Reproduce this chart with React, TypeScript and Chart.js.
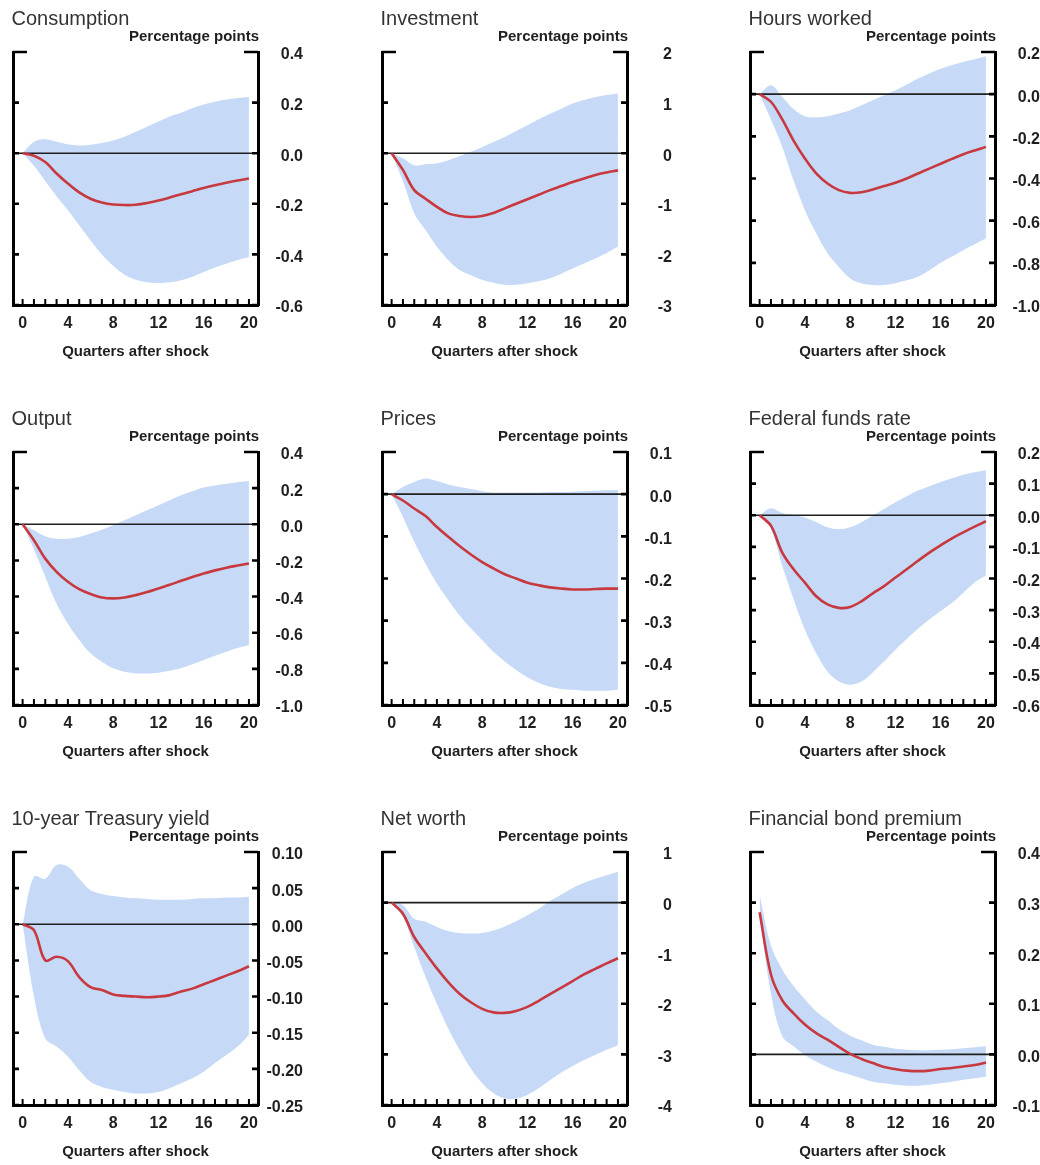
import React, { useEffect, useRef } from "react";
import { Chart, registerables } from "chart.js";

Chart.register(...registerables);

const FONT = '"Liberation Sans", Arial, Helvetica, sans-serif';
Chart.defaults.font.family = FONT;

// ---------- data ----------
const quarters = [0, 1, 2, 3, 4, 5, 6, 7, 8, 9, 10, 11, 12, 13, 14, 15, 16, 17, 18, 19, 20];
const xTickLabels = [0, 4, 8, 12, 16, 20];
const xMinorTicks = [0, 1, 2, 3, 4, 5, 6, 7, 8, 9, 10, 11, 12, 13, 14, 15, 16, 17, 18, 19, 20];

const consumptionMid = [0, -0.01, -0.035, -0.08, -0.12, -0.155, -0.18, -0.195, -0.203, -0.205, -0.204, -0.197, -0.187, -0.175, -0.162, -0.15, -0.138, -0.127, -0.117, -0.108, -0.1];
const consumptionLow = [0, -0.05, -0.11, -0.17, -0.225, -0.285, -0.345, -0.4, -0.445, -0.48, -0.5, -0.51, -0.513, -0.51, -0.502, -0.488, -0.47, -0.452, -0.437, -0.422, -0.41];
const consumptionHigh = [0, 0.045, 0.055, 0.045, 0.035, 0.03, 0.033, 0.04, 0.05, 0.065, 0.085, 0.105, 0.125, 0.145, 0.16, 0.178, 0.192, 0.203, 0.212, 0.218, 0.222];
const consumptionTicks = [-0.6, -0.4, -0.2, 0, 0.2, 0.4];

const investmentMid = [0, -0.33, -0.73, -0.9, -1.06, -1.19, -1.24, -1.26, -1.24, -1.18, -1.09, -1.0, -0.91, -0.82, -0.73, -0.65, -0.57, -0.5, -0.43, -0.38, -0.34];
const investmentLow = [0, -0.55, -1.19, -1.52, -1.85, -2.11, -2.31, -2.41, -2.5, -2.56, -2.6, -2.6, -2.57, -2.53, -2.47, -2.38, -2.28, -2.18, -2.08, -1.97, -1.85];
const investmentHigh = [0, -0.1, -0.24, -0.22, -0.2, -0.14, -0.06, 0.03, 0.12, 0.22, 0.32, 0.44, 0.55, 0.67, 0.78, 0.88, 0.98, 1.05, 1.11, 1.15, 1.18];
const investmentTicks = [-3, -2, -1, 0, 1, 2];

const hoursMid = [0, -0.036, -0.12, -0.22, -0.305, -0.376, -0.424, -0.455, -0.468, -0.465, -0.452, -0.436, -0.42, -0.4, -0.376, -0.353, -0.33, -0.307, -0.285, -0.267, -0.25];
const hoursLow = [0, -0.12, -0.25, -0.41, -0.55, -0.66, -0.755, -0.82, -0.874, -0.897, -0.905, -0.905, -0.897, -0.883, -0.866, -0.835, -0.8, -0.77, -0.74, -0.712, -0.685];
const hoursHigh = [0, 0.042, -0.013, -0.07, -0.105, -0.11, -0.105, -0.092, -0.076, -0.052, -0.029, -0.005, 0.018, 0.046, 0.074, 0.098, 0.12, 0.138, 0.153, 0.166, 0.18];
const hoursTicks = [-1.0, -0.8, -0.6, -0.4, -0.2, 0, 0.2];

const outputMid = [0, -0.088, -0.19, -0.263, -0.318, -0.359, -0.386, -0.405, -0.41, -0.405, -0.392, -0.375, -0.355, -0.335, -0.313, -0.292, -0.272, -0.255, -0.24, -0.228, -0.217];
const outputLow = [0, -0.14, -0.29, -0.44, -0.55, -0.64, -0.714, -0.76, -0.797, -0.816, -0.825, -0.825, -0.821, -0.81, -0.797, -0.775, -0.751, -0.728, -0.705, -0.685, -0.668];
const outputHigh = [0, -0.033, -0.066, -0.08, -0.08, -0.07, -0.051, -0.03, -0.005, 0.022, 0.05, 0.078, 0.105, 0.133, 0.16, 0.183, 0.203, 0.215, 0.225, 0.233, 0.24];
const outputTicks = [-1.0, -0.8, -0.6, -0.4, -0.2, 0, 0.2, 0.4];

const pricesMid = [0, -0.015, -0.034, -0.052, -0.078, -0.101, -0.123, -0.143, -0.161, -0.176, -0.19, -0.2, -0.21, -0.216, -0.221, -0.224, -0.226, -0.226, -0.225, -0.224, -0.224];
const pricesLow = [0, -0.054, -0.113, -0.165, -0.212, -0.251, -0.287, -0.318, -0.346, -0.374, -0.397, -0.417, -0.434, -0.447, -0.457, -0.462, -0.464, -0.466, -0.466, -0.466, -0.464];
const pricesHigh = [0, 0.017, 0.029, 0.037, 0.031, 0.023, 0.017, 0.012, 0.007, 0.004, 0.004, 0.004, 0.004, 0.004, 0.005, 0.005, 0.006, 0.007, 0.008, 0.009, 0.01];
const pricesTicks = [-0.5, -0.4, -0.3, -0.2, -0.1, 0, 0.1];

const fedFundsMid = [0, -0.033, -0.118, -0.171, -0.213, -0.256, -0.282, -0.293, -0.29, -0.272, -0.247, -0.224, -0.197, -0.171, -0.144, -0.118, -0.095, -0.073, -0.054, -0.036, -0.019];
const fedFundsLow = [0, -0.043, -0.16, -0.266, -0.362, -0.436, -0.494, -0.526, -0.536, -0.526, -0.497, -0.462, -0.425, -0.391, -0.359, -0.33, -0.303, -0.277, -0.245, -0.213, -0.19];
const fedFundsHigh = [0, 0.022, 0.007, 0.001, -0.007, -0.022, -0.038, -0.044, -0.038, -0.022, -0.001, 0.02, 0.041, 0.06, 0.078, 0.092, 0.105, 0.117, 0.128, 0.136, 0.142];
const fedFundsTicks = [-0.6, -0.5, -0.4, -0.3, -0.2, -0.1, 0, 0.1, 0.2];

const treasuryMid = [0, -0.008, -0.05, -0.045, -0.051, -0.073, -0.087, -0.091, -0.097, -0.099, -0.1, -0.101, -0.1, -0.098, -0.093, -0.089, -0.083, -0.077, -0.071, -0.065, -0.058];
const treasuryLow = [0, -0.1, -0.158, -0.169, -0.183, -0.202, -0.218, -0.225, -0.229, -0.232, -0.234, -0.234, -0.232, -0.227, -0.22, -0.213, -0.204, -0.192, -0.181, -0.169, -0.153];
const treasuryHigh = [0, 0.066, 0.063, 0.082, 0.08, 0.063, 0.047, 0.042, 0.039, 0.037, 0.036, 0.035, 0.034, 0.034, 0.034, 0.035, 0.036, 0.036, 0.037, 0.037, 0.038];
const treasuryTicks = [-0.25, -0.2, -0.15, -0.1, -0.05, 0, 0.05, 0.1];

const netWorthMid = [0, -0.22, -0.68, -1.0, -1.3, -1.57, -1.8, -1.97, -2.1, -2.17, -2.18, -2.14, -2.06, -1.94, -1.81, -1.68, -1.55, -1.42, -1.31, -1.2, -1.1];
const netWorthLow = [0, -0.28, -0.88, -1.47, -2.0, -2.49, -2.91, -3.28, -3.57, -3.77, -3.87, -3.87, -3.8, -3.67, -3.51, -3.36, -3.23, -3.11, -3.01, -2.91, -2.82];
const netWorthHigh = [0, -0.05, -0.32, -0.38, -0.48, -0.56, -0.6, -0.61, -0.6, -0.55, -0.47, -0.37, -0.25, -0.12, 0.03, 0.16, 0.29, 0.39, 0.47, 0.54, 0.61];
const netWorthTicks = [-4, -3, -2, -1, 0, 1];

const bondPremiumMid = [0.281, 0.158, 0.107, 0.081, 0.059, 0.042, 0.029, 0.015, 0.001, -0.009, -0.017, -0.025, -0.029, -0.032, -0.033, -0.032, -0.029, -0.027, -0.024, -0.021, -0.016];
const bondPremiumLow = [0.274, 0.12, 0.036, 0.016, -0.001, -0.014, -0.025, -0.034, -0.04, -0.047, -0.054, -0.057, -0.06, -0.062, -0.062, -0.06, -0.057, -0.054, -0.05, -0.047, -0.044];
const bondPremiumHigh = [0.315, 0.215, 0.168, 0.135, 0.109, 0.085, 0.068, 0.05, 0.037, 0.028, 0.019, 0.015, 0.011, 0.009, 0.008, 0.008, 0.009, 0.01, 0.012, 0.014, 0.016];
const bondPremiumTicks = [-0.1, 0, 0.1, 0.2, 0.3, 0.4];

const panelTitles = [
  "Consumption", "Investment", "Hours worked",
  "Output", "Prices", "Federal funds rate",
  "10-year Treasury yield", "Net worth", "Financial bond premium",
];
const unitLabel = "Percentage points";
const xAxisTitle = "Quarters after shock";

const panels = [
  { mid: consumptionMid, low: consumptionLow, high: consumptionHigh, ticks: consumptionTicks, dec: 1 },
  { mid: investmentMid, low: investmentLow, high: investmentHigh, ticks: investmentTicks, dec: 0 },
  { mid: hoursMid, low: hoursLow, high: hoursHigh, ticks: hoursTicks, dec: 1 },
  { mid: outputMid, low: outputLow, high: outputHigh, ticks: outputTicks, dec: 1 },
  { mid: pricesMid, low: pricesLow, high: pricesHigh, ticks: pricesTicks, dec: 1 },
  { mid: fedFundsMid, low: fedFundsLow, high: fedFundsHigh, ticks: fedFundsTicks, dec: 1 },
  { mid: treasuryMid, low: treasuryLow, high: treasuryHigh, ticks: treasuryTicks, dec: 2 },
  { mid: netWorthMid, low: netWorthLow, high: netWorthHigh, ticks: netWorthTicks, dec: 0 },
  { mid: bondPremiumMid, low: bondPremiumLow, high: bondPremiumHigh, ticks: bondPremiumTicks, dec: 1 },
];

// ---------- layout / style ----------
const COL_X = [0, 369, 737];
const ROW_Y = [0, 400, 800];
const LABEL_PAD = [13, 13, 7];
const PAD_LEFT = 13;
const PAD_TOP = 52;
const PLOT_W = 245;
const PLOT_H = 253;
const RIGHT_AXIS_W = 45;
const X_AXIS_H = 56;
const CANVAS_W = PAD_LEFT + PLOT_W + RIGHT_AXIS_W;
const CANVAS_H = PAD_TOP + PLOT_H + X_AXIS_H;

const BAND = "rgb(198, 218, 248)";
const RED = "#c8393f";
const INK = "#1f1f1f";
const CURVE = 0.35;

// datasets: 0 = estimate (drawn last, on top), 1 = upper band, 2 = lower band
const framePlugin = {
  id: "frame",
  beforeDatasetDraw(chart: any, args: any) {
    if (args.index !== 0) return;
    const { ctx, chartArea } = chart;
    const y = chart.scales.y.getPixelForValue(0);
    ctx.save();
    ctx.strokeStyle = INK;
    ctx.lineWidth = 1.6;
    ctx.beginPath();
    ctx.moveTo(chartArea.left, y);
    ctx.lineTo(chartArea.right, y);
    ctx.stroke();
    ctx.restore();
  },
  afterDraw(chart: any) {
    const { ctx, chartArea } = chart;
    const { left, right, top, bottom } = chartArea;
    const o = chart.options.plugins.frame;
    const ys = chart.scales.y;
    const xs = chart.scales.x;
    ctx.save();
    ctx.strokeStyle = "#000";
    ctx.lineWidth = 2.6;
    ctx.lineCap = "butt";
    ys.ticks.forEach((t: any) => {
      const py = ys.getPixelForValue(t.value);
      const len = Math.abs(t.value - ys.max) < 1e-9 ? 14 : 6;
      ctx.beginPath();
      ctx.moveTo(left, py);
      ctx.lineTo(left + len, py);
      ctx.moveTo(right, py);
      ctx.lineTo(right - len, py);
      ctx.stroke();
    });
    ctx.lineWidth = 2;
    xMinorTicks.forEach((v) => {
      const px = xs.getPixelForValue(v);
      ctx.beginPath();
      ctx.moveTo(px, bottom);
      ctx.lineTo(px, bottom - 6);
      ctx.stroke();
    });
    ctx.fillStyle = "#333";
    ctx.font = `20px ${FONT}`;
    ctx.textAlign = "left";
    ctx.textBaseline = "alphabetic";
    ctx.fillText(o.title, left - 1.5, top - 27);
    ctx.fillStyle = INK;
    ctx.font = `bold 15px ${FONT}`;
    ctx.textAlign = "right";
    ctx.fillText(unitLabel, right + 1, top - 11);
    ctx.restore();
  },
};

function Panel({ index }: { index: number }) {
  const ref = useRef<HTMLCanvasElement | null>(null);
  useEffect(() => {
    const p = panels[index];
    const col = index % 3;
    const yMin = p.ticks[0];
    const yMax = p.ticks[p.ticks.length - 1];
    const toXY = (arr: number[]) => quarters.map((q, i) => ({ x: q, y: arr[i] }));
    const chart = new Chart(ref.current as HTMLCanvasElement, {
      type: "line",
      data: {
        datasets: [
          { data: toXY(p.mid), borderWidth: 2.6, pointRadius: 0, fill: false, borderColor: RED, tension: CURVE },
          { data: toXY(p.high), borderWidth: 0, pointRadius: 0, fill: "+1", backgroundColor: BAND, tension: CURVE, borderColor: "rgba(0,0,0,0)" },
          { data: toXY(p.low), borderWidth: 0, pointRadius: 0, fill: false, tension: CURVE, borderColor: "rgba(0,0,0,0)" },
        ],
      } as any,
      options: {
        animation: false,
        responsive: false,
        events: [],
        layout: { padding: { left: PAD_LEFT, top: PAD_TOP, right: 0, bottom: 0 } },
        plugins: {
          legend: { display: false },
          tooltip: { enabled: false },
          frame: { title: panelTitles[index] },
        } as any,
        scales: {
          x: {
            type: "linear",
            min: -0.85,
            max: 20.8,
            afterBuildTicks: (s: any) => {
              s.ticks = xTickLabels.map((v) => ({ value: v }));
            },
            afterFit: (s: any) => {
              s.height = X_AXIS_H;
            },
            grid: { display: false, drawTicks: false },
            border: { display: true, color: "#000", width: 3 },
            ticks: {
              padding: 9,
              autoSkip: false,
              maxRotation: 0,
              color: INK,
              font: { size: 16, weight: "bold" },
              callback: (v: any) => String(v),
            },
            title: {
              display: true,
              text: xAxisTitle,
              color: INK,
              font: { size: 15, weight: "bold" },
              padding: { top: 0, bottom: 0 },
            },
          },
          y: {
            type: "linear",
            position: "right",
            min: yMin,
            max: yMax,
            afterBuildTicks: (s: any) => {
              s.ticks = p.ticks.map((v) => ({ value: v }));
            },
            afterFit: (s: any) => {
              s.width = RIGHT_AXIS_W;
            },
            grid: { display: false, drawTicks: false },
            border: { display: true, color: "#000", width: 3 },
            ticks: {
              padding: LABEL_PAD[col],
              crossAlign: "far",
              labelOffset: 3,
              color: INK,
              font: { size: 16, weight: "bold" },
              callback: (v: any) => Number(v).toFixed(p.dec),
            },
          },
          yl: {
            type: "linear",
            position: "left",
            min: yMin,
            max: yMax,
            afterFit: (s: any) => {
              s.width = 0;
            },
            grid: { display: false, drawTicks: false },
            border: { display: true, color: "#000", width: 3 },
            ticks: { display: false },
          },
        },
      } as any,
      plugins: [framePlugin as any],
    });
    return () => chart.destroy();
  }, [index]);
  const col = index % 3;
  const row = Math.floor(index / 3);
  return (
    <canvas
      ref={ref}
      width={CANVAS_W}
      height={CANVAS_H}
      style={{ position: "absolute", left: COL_X[col], top: ROW_Y[row], width: CANVAS_W, height: CANVAS_H }}
    />
  );
}

export default function App() {
  return (
    <div style={{ position: "absolute", left: 0, top: 0, width: 1040, height: 1165, background: "#fff", overflow: "hidden" }}>
      {panels.map((_, i) => (
        <Panel key={i} index={i} />
      ))}
    </div>
  );
}
